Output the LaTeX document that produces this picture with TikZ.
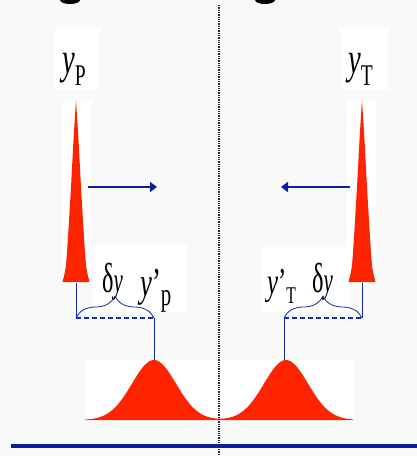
\documentclass[tikz,border=0pt]{standalone}
\usepackage{fontspec}
\setmainfont{Liberation Serif}
\usetikzlibrary{arrows.meta,decorations.pathreplacing}
\definecolor{slidebg}{RGB}{248,250,250}
\definecolor{spikered}{RGB}{255,36,0}
\definecolor{shiftblue}{RGB}{18,42,175}
\definecolor{axisblue}{RGB}{10,30,160}
\newcommand{\sublbl}[2]{\raisebox{#1}{\fontsize{30}{30}\selectfont #2}}
\newcommand{\dlbl}{{\fontsize{42}{42}\selectfont δ}\textit{y}}

\begin{document}
\begin{tikzpicture}[x=1pt, y=-1pt,
  lbl/.style={inner sep=0pt, anchor=base west},
  thinline/.style={shiftblue, line width=0.8pt},
  shiftarrow/.style={axisblue, line width=2.2pt, -{Triangle[length=7pt, width=10pt]}}]
% slide background and white patches
\fill[slidebg] (0,0) rectangle (417,456);
\useasboundingbox (0,0) rectangle (417,456);
\foreach \a/\b/\c/\d in {55/27/99/90, 341/27/388/90, 63/100/91/283,
  347/101/376/283, 92/245/187/312, 262/247/350/312, 85/360/353/421}
  \fill[white] (\a,\b) rectangle (\c,\d);
% clipped title letters
\fill[black] (80,0) arc[start angle=0, end angle=180, x radius=10, y radius=4] -- cycle;
\fill[black] (275,0) arc[start angle=0, end angle=180, x radius=10, y radius=4] -- cycle;
% narrow peaks
\foreach \cx in {76,362}
  \fill[spikered] plot[smooth] coordinates {(\cx,100) ({\cx+2.5},140)
    ({\cx+5},187) ({\cx+8},237) ({\cx+10},265) ({\cx+12},276)
    ({\cx+13.5},282)}
    -- plot[smooth] coordinates {({\cx-13.5},282) ({\cx-12},276)
    ({\cx-10},265) ({\cx-8},237) ({\cx-5},187) ({\cx-2.5},140)
    (\cx,100)} -- cycle;
% broad peaks
\fill[spikered] (85,420)
  -- plot[domain=85:353, samples=140]
  (\x, {420 - 60*(exp(-min(((\x-154)/22)^2/2, 20))
                 + exp(-min(((\x-286)/22)^2/2, 20)))})
  -- (353,420) -- cycle;
% labels
\node[lbl] (yP) at (62,73)
  {\scalebox{0.65}[1]{\fontsize{44}{44}\selectfont\textit{y}\sublbl{-12pt}{P}}};
\node[lbl] (yT) at (348,73)
  {\scalebox{0.65}[1]{\fontsize{44}{44}\selectfont\textit{y}\sublbl{-12pt}{T}}};
\node[lbl] (dyP) at (102,292)
  {\scalebox{0.58}[1]{\fontsize{36}{36}\selectfont\dlbl}};
\node[lbl] (dyT) at (312,292)
  {\scalebox{0.58}[1]{\fontsize{36}{36}\selectfont\dlbl}};
\node[lbl] (ypP) at (140,296)
  {\scalebox{0.65}[1]{\fontsize{41}{41}\selectfont\textit{y}’\raisebox{-9pt}{\fontsize{32}{32}\selectfont p}}};
\node[lbl] (ypT) at (267,294)
  {\scalebox{0.65}[1]{\fontsize{38}{38}\selectfont\textit{y}’\sublbl{-9pt}{\fontsize{24}{24}\selectfont T}}};
% shift arrows
\coordinate (arrPs) at (88,187);
\coordinate (arrPe) at (157,187);
\coordinate (arrTs) at (350,187);
\coordinate (arrTe) at (281,187);
\draw[shiftarrow] (arrPs) -- (arrPe);
\draw[shiftarrow] (arrTs) -- (arrTe);
% braces and dashed spans
\coordinate (baseP) at (76,283);
\coordinate (brP1) at (76,318);
\coordinate (brP2) at (154,318);
\coordinate (bellP) at (154,360);
\coordinate (baseT) at (362,283);
\coordinate (brT1) at (284,318);
\coordinate (brT2) at (362,318);
\coordinate (bellT) at (284,360);
\draw[thinline] (baseP) -- (brP1);
\draw[thinline] (brP2) -- (bellP);
\draw[thinline] (baseT) -- (brT2);
\draw[thinline] (brT1) -- (bellT);
\draw[thinline, decorate, decoration={brace, amplitude=22pt}] (brP1) -- (brP2);
\draw[thinline, decorate, decoration={brace, amplitude=22pt}] (brT1) -- (brT2);
\draw[shiftblue, line width=1.8pt, dash pattern=on 5pt off 3pt] (brP1) -- (brP2);
\draw[shiftblue, line width=1.8pt, dash pattern=on 5pt off 3pt] (brT1) -- (brT2);
% axis
\draw[axisblue, line width=4pt] (11,446) -- (417,446);
% symmetry line
\draw[black!85, line width=1.3pt, densely dotted] (219,5) -- (219,456);
\end{tikzpicture}
\end{document}
